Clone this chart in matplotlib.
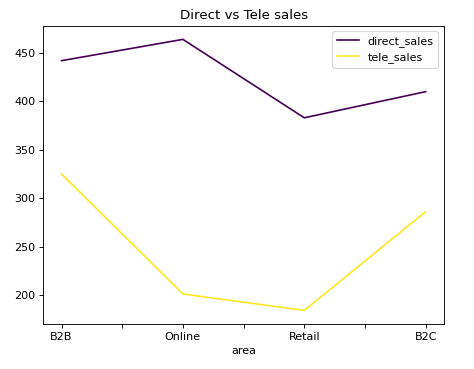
import matplotlib
matplotlib.use("Agg")
import matplotlib.pyplot as plt
import pandas as pd

area = ["B2B", "Online", "Retail", "B2C"]
direct_sales = [442, 464, 383, 410]
tele_sales = [325, 201, 184, 286]

df = pd.DataFrame({"area": area, "direct_sales": direct_sales, "tele_sales": tele_sales})
df = df.set_index("area")

fig = plt.figure(figsize=(474 / 80, 369 / 80), dpi=80)
ax = fig.add_axes([0.0914, 0.122, 0.845, 0.808])
df.plot(ax=ax, colormap="viridis", title="Direct vs Tele sales")

fig.savefig("out.png", dpi=80)
